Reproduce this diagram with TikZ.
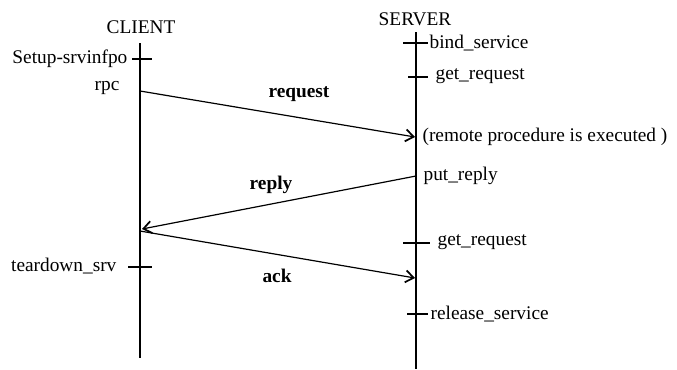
\documentclass[tikz,border=0pt]{standalone}
\usepackage{fontspec}
\setmainfont{Liberation Serif}
\usetikzlibrary{arrows.meta}

\begin{document}
\begin{tikzpicture}[x=0.75pt, y=-0.75pt, font=\fontsize{14.5}{16}\selectfont,
  life/.style = {line width=2.2pt},
  tick/.style = {line width=2pt},
  msg/.style = {-{Straight Barb[length=6pt,width=9pt,line width=1.3pt]}, line width=0.9pt},
  lbl/.style = {inner sep=1pt}]
\useasboundingbox (0,0) rectangle (677,369);

\node (client) at (141,27) {CLIENT};
\node (server) at (415,19) {SERVER};

\coordinate (ctop) at (140,43);
\coordinate (cbot) at (140,358);
\coordinate (stop) at (416,32);
\coordinate (sbot) at (416,369);
\draw[life] (ctop) -- (cbot);
\draw[life] (stop) -- (sbot);

% client side
\draw[tick] (132,59) -- (152,59);
\node[lbl, anchor=east] (setup) at (129,59) {Setup-srvinfpo};
\node[lbl, anchor=east] (rpclbl) at (121,88) {rpc};
\draw[tick] (128,267) -- (152,267);
\node[lbl, anchor=east] (teardown) at (118,266) {teardown\_srv};

% server side
\draw[tick] (403,43) -- (428,43);
\node[lbl, anchor=west] (bind) at (428,43) {bind\_service};
\draw[tick] (408,77) -- (428,77);
\node[lbl, anchor=west] (get1) at (434,76) {get\_request};
\node[lbl, anchor=west] (exec) at (421,137) {(remote procedure is executed )};
\node[lbl, anchor=west] (put) at (422,176) {put\_reply};
\draw[tick] (403,243) -- (430,243);
\node[lbl, anchor=west] (get2) at (436,242) {get\_request};
\draw[tick] (407,314) -- (428,314);
\node[lbl, anchor=west] (release) at (429,314) {release\_service};

% messages
\coordinate (rpc) at (140,91);
\coordinate (execin) at (415,137);
\coordinate (putout) at (416,176);
\coordinate (back) at (142,229);
\coordinate (ackout) at (140,231);
\coordinate (ackin) at (415,278);
\draw[msg] (rpc) -- (execin);
\draw[msg] (putout) -- (back);
\draw[msg] (ackout) -- (ackin);
\node[font=\fontsize{14.5}{16}\bfseries] (req) at (299,94) {request};
\node[font=\fontsize{14.5}{16}\bfseries] (rep) at (271,185) {reply};
\node[font=\fontsize{14.5}{16}\bfseries] (ack) at (277,276) {ack};

\end{tikzpicture}
\end{document}
